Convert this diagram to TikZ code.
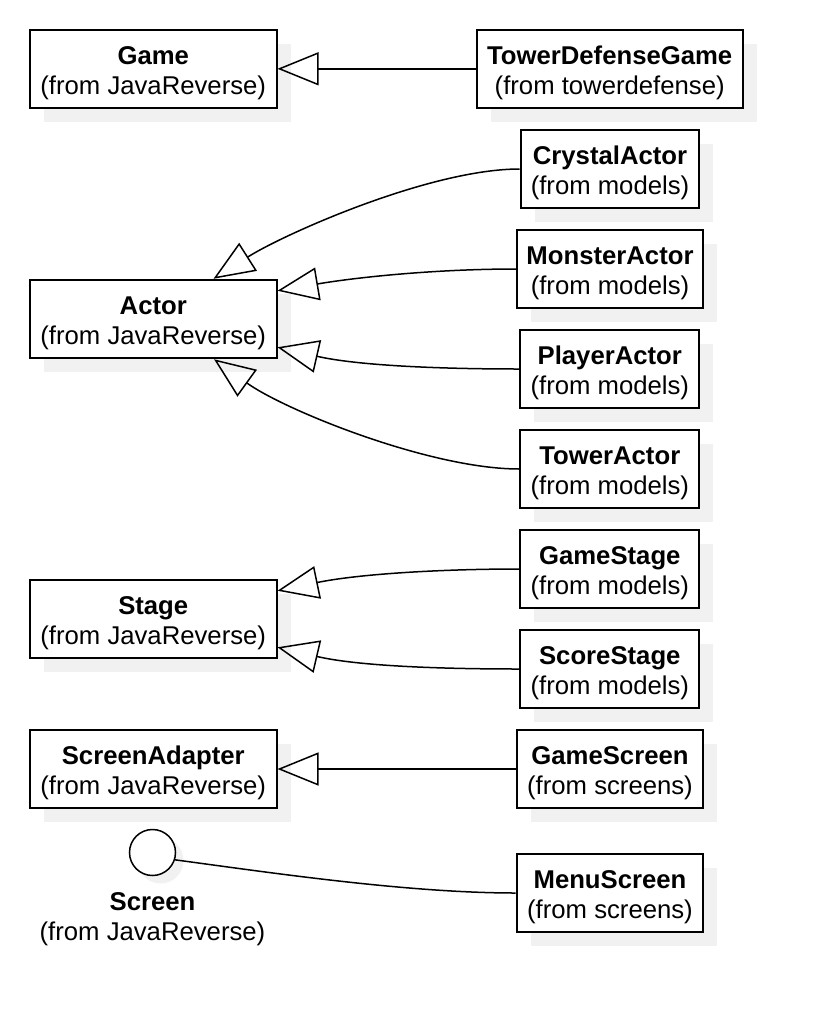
\documentclass[tikz,border=0pt]{standalone}
\usepackage{fontspec}
\setmainfont{Liberation Sans}
\usetikzlibrary{arrows.meta,shadows}
\definecolor{shadowgray}{RGB}{241,241,241}
\newcommand{\topstrut}{\rule{0pt}{27pt}}
\begin{document}
\begin{tikzpicture}[x=1pt,y=-1pt]
\tikzset{
  cls/.style={draw, line width=2pt, fill=white, align=center, inner sep=0pt,
    minimum height=78.5pt, font=\fontsize{25.7}{30}\selectfont,
    general shadow={fill=shadowgray, shadow xshift=14pt, shadow yshift=-14pt}},
  iface/.style={draw, circle, line width=1.5pt, fill=white, inner sep=0pt, minimum size=46pt,
    general shadow={fill=shadowgray, shadow xshift=8pt, shadow yshift=-8pt}},
  lbl/.style={align=center, inner sep=0pt, font=\fontsize{25.7}{30}\selectfont},
  gen/.style={line width=1.5pt, -{Triangle[open,length=41pt,width=33pt]}},
  assoc/.style={line width=1.5pt},
}
\useasboundingbox (0,0) rectangle (812,1026);

% left column
\node[cls, minimum width=246.5pt] (game)  at (153.25,68.8) {\topstrut\textbf{Game}\\(from JavaReverse)};
\node[cls, minimum width=246.5pt] (actor) at (153.25,319)  {\topstrut\textbf{Actor}\\(from JavaReverse)};
\node[cls, minimum width=246.5pt] (stage) at (153.25,619)  {\topstrut\textbf{Stage}\\(from JavaReverse)};
\node[cls, minimum width=246.5pt] (screenadapter) at (153.25,769) {\topstrut\textbf{ScreenAdapter}\\(from JavaReverse)};
\node[iface] (screen) at (152.5,852.5) {};
\node[lbl] (screenlbl) at (152.5,919.5) {\textbf{Screen}\\(from JavaReverse)};

% right column
\node[cls, minimum width=266pt] (tdg) at (609.7,68.8) {\topstrut\textbf{TowerDefenseGame}\\(from towerdefense)};
\node[cls, minimum width=178.6pt] (crystal) at (610,169) {\topstrut\textbf{CrystalActor}\\(from models)};
\node[cls, minimum width=185.4pt] (monster) at (610,269) {\topstrut\textbf{MonsterActor}\\(from models)};
\node[cls, minimum width=179pt] (player) at (609.8,369) {\topstrut\textbf{PlayerActor}\\(from models)};
\node[cls, minimum width=179pt] (tower) at (609.8,469) {\topstrut\textbf{TowerActor}\\(from models)};
\node[cls, minimum width=179pt] (gamestage) at (609.8,569) {\topstrut\textbf{GameStage}\\(from models)};
\node[cls, minimum width=179pt] (scorestage) at (609.8,669) {\topstrut\textbf{ScoreStage}\\(from models)};
\node[cls, minimum width=186.6pt] (gamescreen) at (610,769) {\topstrut\textbf{GameScreen}\\(from screens)};
\node[cls, minimum width=186.6pt] (menuscreen) at (610,893) {\topstrut\textbf{MenuScreen}\\(from screens)};

% generalisations
\draw[gen] (tdg.west) -- (game.east);
\draw[gen] (crystal.west) .. controls +(-90,0) and +(70,-44.4) .. ([xshift=-64pt]actor.north east);
\draw[gen] (monster.west) .. controls +(-80,0) and +(80,-13.6) .. ([yshift=-12pt]actor.north east);
\draw[gen] (player.west) .. controls +(-80,0) and +(80,18.3) .. ([yshift=12pt]actor.south east);
\draw[gen] (tower.west) .. controls +(-90,0) and +(70,50.5) .. ([xshift=-63.5pt]actor.south east);
\draw[gen] (gamestage.west) .. controls +(-80,0) and +(80,-16.6) .. ([yshift=-12pt]stage.north east);
\draw[gen] (scorestage.west) .. controls +(-80,0) and +(80,18.7) .. ([yshift=12pt]stage.south east);
\draw[gen] (gamescreen.west) -- (screenadapter.east);

% realisation (lollipop)
\draw[assoc] (screen.-18) .. controls +(90,12) and +(-110,0) .. (menuscreen.west);
\end{tikzpicture}
\end{document}
